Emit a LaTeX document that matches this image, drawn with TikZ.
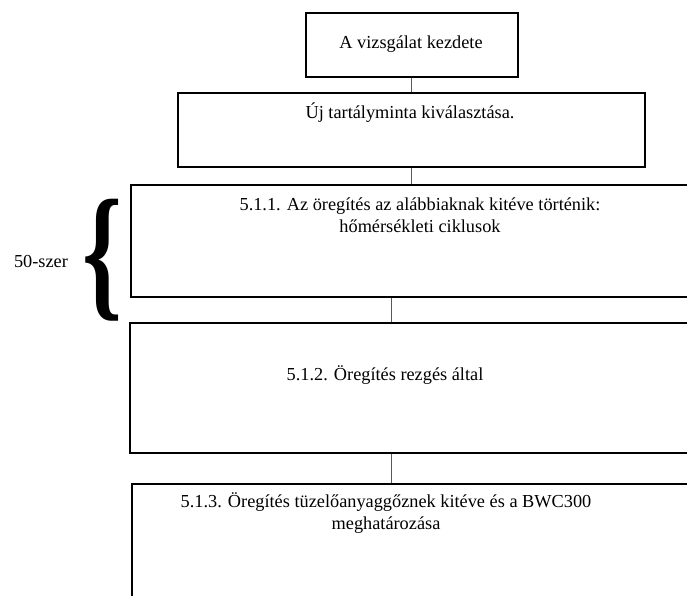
\documentclass[tikz,border=0pt]{standalone}
\usepackage{fontspec}
\setmainfont{Liberation Serif}
\usetikzlibrary{positioning}

\begin{document}
\begin{tikzpicture}[
    x=1pt, y=-1pt,
    stepframe/.style={rectangle, draw, line width=1.7pt, inner sep=0pt,
        anchor=north west},
    steptext/.style={align=center, inner sep=0pt,
        font=\fontsize{18.3}{22}\selectfont},
    link/.style={draw, line width=0.8pt, black!65},
    bracenode/.style={inner sep=0pt, anchor=east}
]
\useasboundingbox (0,0) rectangle (687,596);
\clip (0,0) rectangle (687,596);

\node (Start) [stepframe, minimum width=212pt, minimum height=64pt] at (305,12) {};
\node (StartText) [steptext] at (411,44) {A vizsgálat kezdete};

\node (Select) [stepframe, minimum width=467pt, minimum height=74pt] at (177,92) {};
\node (SelectText) [steptext] at (410,113) {Új tartályminta kiválasztása.};

\node (AgingOne) [stepframe, minimum width=600pt, minimum height=112pt] at (130,184) {};
\node (AgingOneText) [steptext] at (420,215)
  {5.1.1. Az öregítés az alábbiaknak kitéve történik:\\ hőmérsékleti ciklusok};

\node (AgingTwo) [stepframe, minimum width=600pt, minimum height=130pt] at (129,322) {};
\node (AgingTwoText) [steptext] at (385,375) {5.1.2. Öregítés rezgés által};

\node (AgingThree) [stepframe, minimum width=600pt, minimum height=140pt] at (131,483) {};
\node (AgingThreeText) [steptext] at (386,513)
  {5.1.3. Öregítés tüzelőanyaggőznek kitéve és a BWC300\\ meghatározása};

\node (Brace) [bracenode] at (123,260) {\resizebox*{40pt}{122pt}{\bfseries\{}};
\node (Times) [steptext] at (41,262) {50-szer};

\draw[link] (Start.south) -- (Start.south |- Select.north);
\draw[link] (Select.south) -- (Select.south |- AgingOne.north);
\draw[link] ([xshift=261pt]AgingOne.south west) -- ([xshift=261pt]AgingOne.south west |- AgingTwo.north);
\draw[link] ([xshift=262pt]AgingTwo.south west) -- ([xshift=262pt]AgingTwo.south west |- AgingThree.north);
\end{tikzpicture}
\end{document}
